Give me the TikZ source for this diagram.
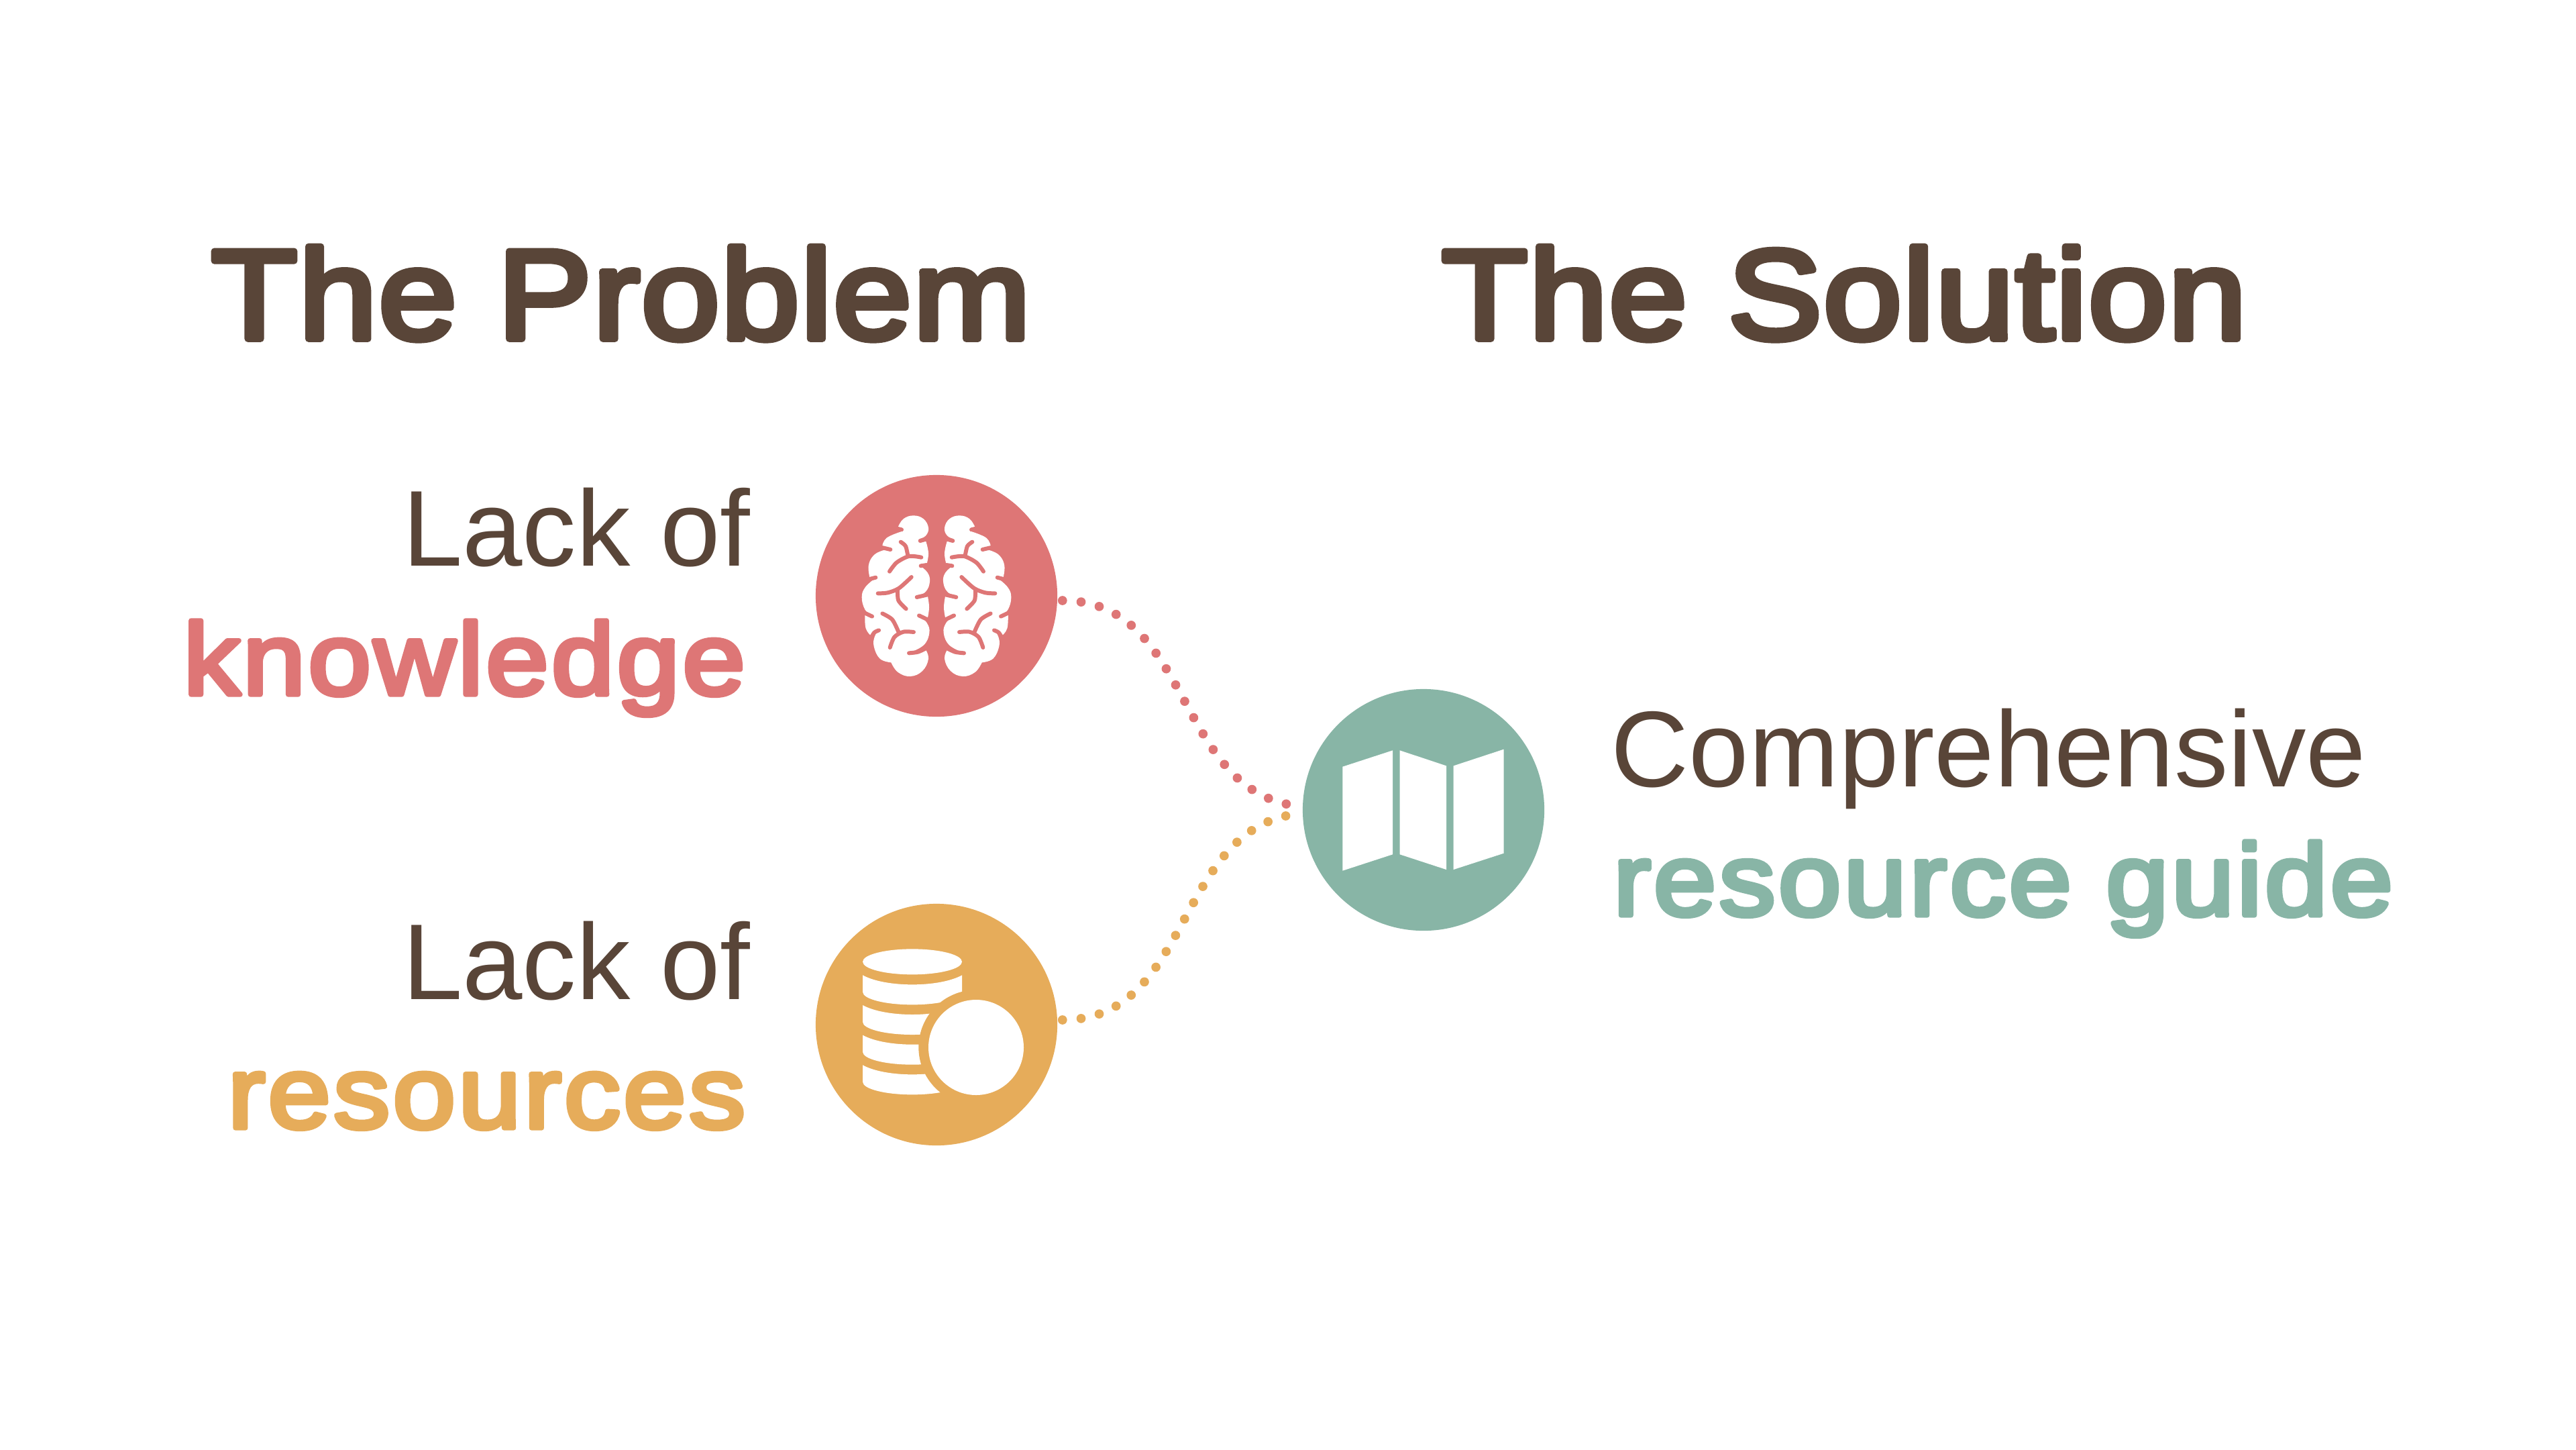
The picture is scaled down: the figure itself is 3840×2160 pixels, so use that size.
\documentclass[tikz,border=0pt]{standalone}
\usepackage{fontspec}
\setmainfont{Liberation Sans}
\newfontfamily\roundhead[FakeBold=5,FakeStretch=1.11,LetterSpace=0.9]{Liberation Sans}
\newfontfamily\roundlabel[FakeBold=4.8,FakeStretch=1.11,LetterSpace=2.6]{Liberation Sans}
\usetikzlibrary{calc}
\definecolor{brownink}{HTML}{594538}
\definecolor{redc}{HTML}{DE7676}
\definecolor{orac}{HTML}{E6AC5A}
\definecolor{grnc}{HTML}{88B5A6}
\newcommand{\roundjoin}{\special{pdf:code 1 j 1 J}}
\tikzset{
  disc/.style={circle,inner sep=0pt,minimum size=3.6cm,fill=#1},
  headline/.style={anchor=base west,inner sep=0pt,text=brownink,font=\roundhead\fontsize{54}{60}\selectfont\roundjoin},
  plainlabel/.style={inner sep=0pt,text=brownink,font=\fontsize{45.7}{50}\selectfont},
  boldlabel/.style={inner sep=0pt,text=#1,font=\roundlabel\fontsize{43.2}{50}\selectfont\roundjoin},
  dotline/.style={draw=#1,line width=3.9pt,line cap=round,dash pattern=on 0pt off 7.92pt},
  sulcus/.style={draw=redc,line width=1.7pt,line cap=round,line join=round},
}
\newcommand{\brainhalf}{%
  \fill[white] plot[smooth,tension=0.7] coordinates {(475,318)(500,280)(545,265)(590,280)(612,320)(600,355)(570,370)}
    -- plot[smooth,tension=0.7] coordinates {(600,378)(612,435)(602,490)}
    -- plot[smooth,tension=0.7] coordinates {(575,490)(608,520)(618,560)(600,605)(555,630)}
    -- plot[smooth,tension=0.7] coordinates {(608,622)(615,675)(608,725)}
    -- plot[smooth,tension=0.7] coordinates {(570,712)(605,745)(616,790)(590,845)(522,880)}
    -- plot[smooth,tension=0.7] coordinates {(598,862)(612,905)(585,960)(530,984)(475,965)(445,922)}
    -- plot[smooth,tension=0.7] coordinates {(445,922)(395,905)(368,850)(372,805)(392,775)}
    -- plot[smooth,tension=0.7] coordinates {(358,805)(332,770)(328,705)}
    -- plot[smooth,tension=0.7] coordinates {(360,718)(328,685)(314,630)(330,585)(378,542)}
    -- plot[smooth,tension=0.7] coordinates {(350,545)(344,490)(365,445)(405,422)(440,416)}
    -- plot[smooth,tension=0.7] coordinates {(405,403)(425,365)(490,337)} -- cycle;
  \draw[sulcus] plot[smooth] coordinates {(488,383)(510,402)(520,445)};
  \draw[sulcus] plot[smooth] coordinates {(438,515)(470,475)(525,447)(580,452)};
  \draw[sulcus] plot[smooth] coordinates {(536,540)(480,590)(430,610)(386,613)};
  \draw[sulcus] plot[smooth] coordinates {(474,600)(478,645)(512,682)};
  \draw[sulcus] plot[smooth] coordinates {(406,703)(450,730)(478,785)};
  \draw[sulcus] plot[smooth] coordinates {(440,855)(460,808)(500,785)(546,786)};
  \draw[sulcus] (468,322) -- (492,328);
  \draw[sulcus] (575,378) -- (604,370);
  \draw[sulcus] (404,408) -- (442,417);
  \draw[sulcus] (578,490) -- (604,486);
  \draw[sulcus] (376,542) -- (345,550);
  \draw[sulcus] (560,630) -- (612,618);
  \draw[sulcus] (360,716) -- (326,700);
  \draw[sulcus] (570,712) -- (612,732);
  \draw[sulcus] plot[smooth] coordinates {(390,778)(370,788)(355,812)};
  \draw[sulcus] plot[smooth] coordinates {(525,880)(565,875)(602,858)};
}
\begin{document}
\begin{tikzpicture}[x=0.01cm,y=-0.01cm]
\useasboundingbox (0,0) rectangle (3840,2160);
\fill[white] (0,0) rectangle (3840,2160);
% circles
\node[disc=redc] (brain) at (1396,888) {};
\node[disc=orac] (coins) at (1396,1527) {};
\node[disc=grnc] (guide) at (2122,1207) {};
% connectors
\coordinate (rs) at ($(brain.east)+(7,7)$);
\coordinate (re) at ($(guide.west)+(-20,-8)$);
\coordinate (os) at ($(coins.east)+(7,-7)$);
\coordinate (oe) at ($(guide.west)+(-20,8)$);
\draw[dotline=redc] (rs) .. controls ($(rs)+(190,0)$) and ($(re)+(-170,-34)$) .. (re);
\draw[dotline=orac] (os) .. controls ($(os)+(190,0)$) and ($(oe)+(-170,34)$) .. (oe);
% brain icon
\begin{scope}[shift={(1180,680)},scale=1/3]\brainhalf\end{scope}
\begin{scope}[shift={(1612,680)},xscale=-1/3,yscale=1/3]\brainhalf\end{scope}
% coins icon
\begin{scope}[shift={(1180,1320)},scale=1/3]
  \fill[white] (318,340) arc[start angle=180,end angle=540,x radius=222,y radius=57];
  \foreach \k in {0,134,268,402}{
    \fill[white] (318,400+\k) .. controls (420,456+\k) and (660,456+\k) .. (762,400+\k)
       -- (762,475+\k) arc[start angle=0,end angle=180,x radius=222,y radius=57] -- cycle;
  }
  \fill[orac] (825,723) circle[radius=257];
  \fill[white] (825,723) circle[radius=213];
\end{scope}
% map icon
\begin{scope}[shift={(1900,1000)},scale=1/3]
  \fill[white] (304,428) -- (528,355) -- (528,820) -- (304,893) -- cycle;
  \fill[white] (560,355) -- (768,424) -- (768,888) -- (560,820) -- cycle;
  \fill[white] (800,424) -- (1025,350) -- (1025,815) -- (800,888) -- cycle;
\end{scope}
% text
\node[headline] (h1) at (314,505) {The Problem};
\node[headline] (h2) at (2148,505) {The Solution};
\node[plainlabel,anchor=base east] (t1) at (1119,843) {Lack of};
\node[boldlabel=redc,anchor=base east] (t2) at (1112,1035) {knowledge};
\node[plainlabel,anchor=base east] (t3) at (1119,1489) {Lack of};
\node[boldlabel=orac,anchor=base east] (t4) at (1112,1681) {resources};
\node[plainlabel,anchor=base west] (t5) at (2401,1172) {Comprehensive};
\node[boldlabel=grnc,anchor=base west] (t6) at (2404,1364) {resource guide};
\end{tikzpicture}
\end{document}
